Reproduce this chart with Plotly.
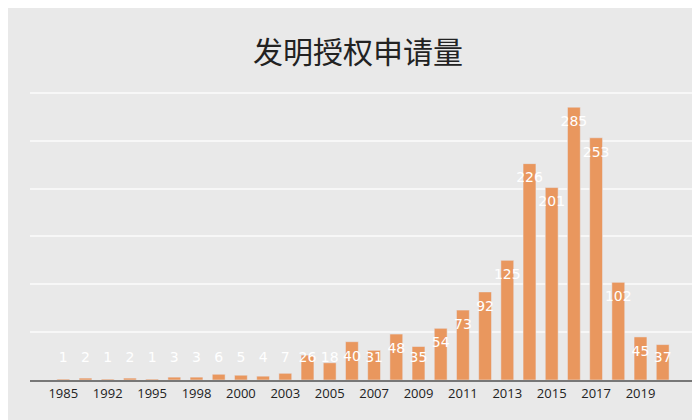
import plotly.graph_objects as go

years = ['1985', '1990', '1992', '1993', '1995', '1996', '1998', '1999', '2000', '2002',
         '2003', '2004', '2005', '2006', '2007', '2008', '2009', '2010', '2011', '2012',
         '2013', '2014', '2015', '2016', '2017', '2018', '2019', '2020']
counts = [1, 2, 1, 2, 1, 3, 3, 6, 5, 4, 7, 26, 18, 40, 31, 48, 35, 54, 73, 92,
          125, 226, 201, 285, 253, 102, 45, 37]
tick_years = years[::2]

label_y = [max(v - 16, 22) for v in counts]

fig = go.Figure()
fig.add_trace(go.Bar(x=years, y=counts, marker_color='#e9975e', hoverinfo='x+y'))
fig.add_trace(go.Scatter(x=years, y=label_y, mode='text', text=[str(v) for v in counts],
                         textfont=dict(color='white', size=14, family='DejaVu Sans'),
                         hoverinfo='skip'))
fig.update_layout(
    width=700, height=420, showlegend=False,
    title=dict(text='发明授权申请量', x=0.5, y=0.92, xanchor='center',
               font=dict(size=30, color='#222', family='Noto Sans CJK SC')),
    paper_bgcolor='#e9e9e9', plot_bgcolor='#e9e9e9',
    margin=dict(l=22, r=12, t=80, b=48),
    bargap=0.42,
)
fig.update_xaxes(type='category', tickvals=tick_years, ticktext=tick_years,
                 tickfont=dict(size=13, color='#222'), showline=True,
                 linecolor='#777', linewidth=2, showgrid=False)
fig.update_yaxes(range=[0, 305], dtick=50, showticklabels=False,
                 gridcolor='#f7f7f7', gridwidth=1.5, zeroline=False)
fig.write_html("out.html")
